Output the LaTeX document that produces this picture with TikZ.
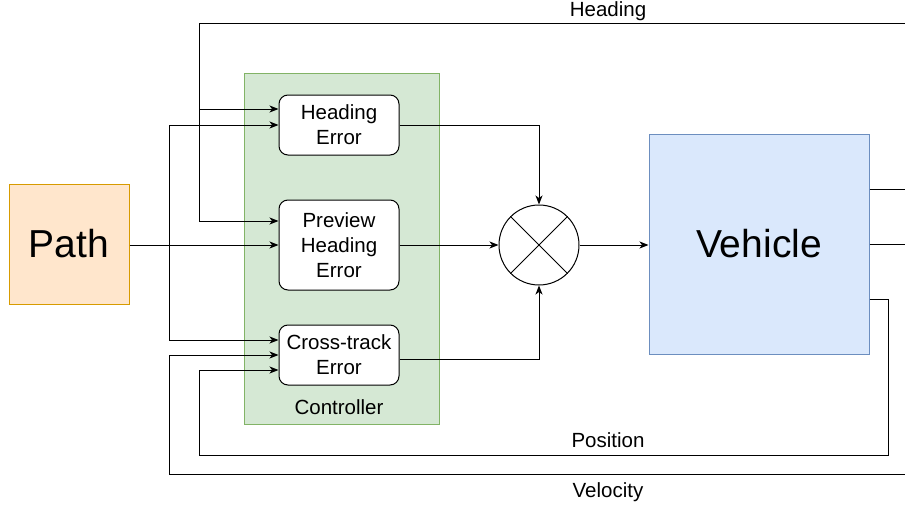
\documentclass[tikz,border=0pt]{standalone}
\usepackage{fontspec}
\setmainfont{Liberation Sans}
\usetikzlibrary{arrows.meta}
\definecolor{pathfill}{HTML}{FFE6CC}
\definecolor{pathline}{HTML}{D79B00}
\definecolor{ctrlfill}{HTML}{D5E8D4}
\definecolor{ctrlline}{HTML}{82B366}
\definecolor{vehfill}{HTML}{DAE8FC}
\definecolor{vehline}{HTML}{6C8EBF}
\begin{document}
\begin{tikzpicture}[x=1pt,y=-1pt,
  wire/.style={draw=black, line width=1pt},
  arr/.style={wire, -{Stealth[length=9pt,width=7pt,inset=2.5pt]}},
  txt/.style={font=\fontsize{20.5}{25}\selectfont},
  big/.style={font=\fontsize{39}{45}\selectfont},
  block/.style={txt, draw=black, fill=white, line width=1pt, rounded corners=9pt,
    minimum width=120pt, align=center, inner sep=0pt},
  lbl/.style={txt, anchor=base, inner sep=0pt}]
\useasboundingbox (0,0) rectangle (905,511);

% path source and controller container
\node[big, draw=pathline, fill=pathfill, line width=1pt, minimum width=120pt, minimum height=120pt, inner sep=0pt] (path) at (69,244) {Path};
\node[draw=ctrlline, fill=ctrlfill, line width=1pt, minimum width=195pt, minimum height=350pt, inner sep=0pt] (ctrl) at (341.5,249) {};
\node[lbl] (ctrllbl) at (339,414) {Controller};

% error blocks
\node[block, minimum height=60pt] (he) at (339,125) {Heading\\Error};
\node[block, minimum height=90pt] (phe) at (339,245) {Preview\\Heading\\Error};
\node[block, minimum height=60pt] (cte) at (339,355) {Cross-track\\Error};

% summing junction
\node[draw, circle, line width=1pt, minimum size=80pt, inner sep=0pt] (sum) at (539,245) {};
\draw[wire] (sum.north west) -- (sum.south east) (sum.north east) -- (sum.south west);

% plant
\node[big, draw=vehline, fill=vehfill, line width=1pt, minimum width=220pt, minimum height=220pt, inner sep=0pt] (veh) at (759,244) {Vehicle};

% forward path
\draw[arr] (he.east) -| (sum.north);
\draw[arr] (phe.east) -- (sum.west);
\draw[arr] ([yshift=-4pt]cte.east) -| (sum.south);
\draw[arr] (sum.east) -- (veh.west |- sum.east);

% path reference into the error blocks
\coordinate (pj) at (169,245);
\draw[arr] (path.east |- phe.west) -- (phe.west);
\draw[arr] (pj) |- (he.west);
\draw[arr] (pj) |- ([yshift=15pt]cte.west);

% heading feedback
\coordinate (hR) at (905,24);
\coordinate (hL) at (199,24);
\draw[arr] (hR) -- (hL) |- ([yshift=16pt]he.west);
\draw[arr] (hL) |- ([yshift=24pt]phe.west);

% vehicle outputs
\coordinate (oH) at (905,189);
\coordinate (oV) at (905,244);
\draw[wire] ([yshift=55pt]veh.east) -- (oH);
\draw[wire] (veh.east) -- (oV);

% position feedback
\coordinate (pR) at (888,455);
\coordinate (pL) at (199,455);
\draw[arr] ([yshift=-55pt]veh.east) -| (pR) -- (pL) |- ([yshift=-15pt]cte.west);

% velocity feedback
\coordinate (vR) at (905,474);
\coordinate (vL) at (169,474);
\draw[arr] (vR) -- (vL) |- (cte.west);

% signal names
\node[lbl] (lh) at (608,17) {Heading};
\node[lbl] (lp) at (608,447) {Position};
\node[lbl] (lv) at (608,497) {Velocity};
\end{tikzpicture}
\end{document}
